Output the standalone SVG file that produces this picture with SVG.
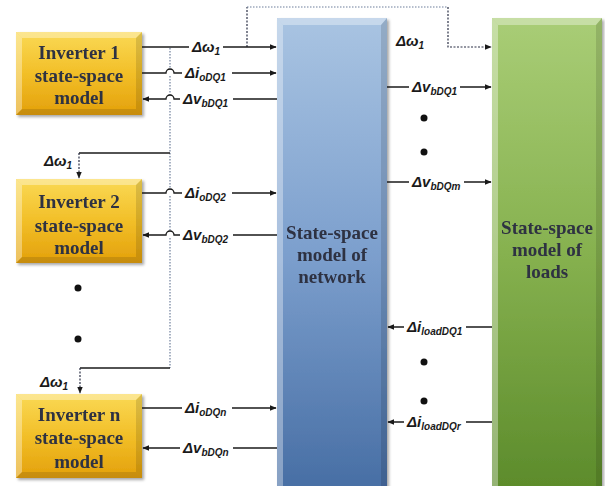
<svg xmlns="http://www.w3.org/2000/svg" width="605" height="486" viewBox="0 0 605 486">
  <defs>
    <linearGradient id="gold" x1="0" y1="0" x2="0" y2="1">
      <stop offset="0" stop-color="#fad955"/>
      <stop offset="0.5" stop-color="#f2bf28"/>
      <stop offset="1" stop-color="#e3a00b"/>
    </linearGradient>
    <linearGradient id="blue" x1="0" y1="0" x2="0" y2="1">
      <stop offset="0" stop-color="#a9c4e2"/>
      <stop offset="0.5" stop-color="#7c9fcd"/>
      <stop offset="1" stop-color="#476ea4"/>
    </linearGradient>
    <linearGradient id="green" x1="0" y1="0" x2="0" y2="1">
      <stop offset="0" stop-color="#a9cd76"/>
      <stop offset="0.5" stop-color="#86b14f"/>
      <stop offset="1" stop-color="#5c8b2b"/>
    </linearGradient>
    <marker id="arr" viewBox="0 0 10 10" refX="9" refY="5" markerWidth="7" markerHeight="7" markerUnits="userSpaceOnUse" orient="auto">
      <path d="M0,1 L10,5 L0,9 Z" fill="#1a1a1a"/>
    </marker>
    <filter id="shadow" x="-10%" y="-10%" width="125%" height="125%">
      <feGaussianBlur in="SourceAlpha" stdDeviation="1.5"/>
      <feOffset dx="1.5" dy="2" result="b"/>
      <feComponentTransfer><feFuncA type="linear" slope="0.35"/></feComponentTransfer>
      <feMerge><feMergeNode/><feMergeNode in="SourceGraphic"/></feMerge>
    </filter>
  </defs>
  <style>
    .box-text { font-family: "Liberation Serif", "Times New Roman", serif; font-weight: bold; font-size: 19px; fill: #2e3142; text-anchor: middle; }
    .lbl { font-family: "Liberation Sans", Arial, sans-serif; font-weight: bold; font-style: italic; font-size: 15px; fill: #1a1a1a; }
    .sub { font-size: 10px; }
    .gap { fill: #ffffff; }
    .wire { fill: none; stroke: #1a1a1a; stroke-width: 1.3; }
    .dash { fill: none; stroke: #2a2f45; stroke-width: 1.2; stroke-dasharray: 2 1.5; }
    .dotline { fill: none; stroke: #6e7f9c; stroke-width: 1.2; stroke-dasharray: 1.5 1.5; }
    .bevel-hi { fill: #ffffff; opacity: 0.35; }
    .bevel-lo { fill: #000000; opacity: 0.12; }
    .dot { fill: #111111; }
  </style>

  <rect width="605" height="486" fill="#ffffff"/>

  <!-- inverter blocks -->
  <g id="inverter1" filter="url(#shadow)">
    <rect x="16" y="32" width="126" height="83" fill="url(#gold)"/>
    <polygon class="bevel-hi" points="16,32 142,32 136,38 22,38"/>
    <polygon class="bevel-hi" points="16,32 22,38 22,109 16,115"/>
    <polygon class="bevel-lo" points="142,32 142,115 136,109 136,38"/>
    <polygon class="bevel-lo" points="16,115 142,115 136,109 22,109"/>
    <text class="box-text" x="79" y="59">Inverter 1</text>
    <text class="box-text" x="79" y="82">state-space</text>
    <text class="box-text" x="79" y="104">model</text>
  </g>
  <g id="inverter2" filter="url(#shadow)">
    <rect x="16" y="179" width="126" height="84" fill="url(#gold)"/>
    <polygon class="bevel-hi" points="16,179 142,179 136,185 22,185"/>
    <polygon class="bevel-hi" points="16,179 22,185 22,257 16,263"/>
    <polygon class="bevel-lo" points="142,179 142,263 136,257 136,185"/>
    <polygon class="bevel-lo" points="16,263 142,263 136,257 22,257"/>
    <text class="box-text" x="79" y="208">Inverter 2</text>
    <text class="box-text" x="79" y="232">state-space</text>
    <text class="box-text" x="79" y="254">model</text>
  </g>
  <g id="inverterN" filter="url(#shadow)">
    <rect x="16" y="394" width="126" height="84" fill="url(#gold)"/>
    <polygon class="bevel-hi" points="16,394 142,394 136,400 22,400"/>
    <polygon class="bevel-hi" points="16,394 22,400 22,472 16,478"/>
    <polygon class="bevel-lo" points="142,394 142,478 136,472 136,400"/>
    <polygon class="bevel-lo" points="16,478 142,478 136,472 22,472"/>
    <text class="box-text" x="79" y="421">Inverter n</text>
    <text class="box-text" x="79" y="444">state-space</text>
    <text class="box-text" x="79" y="468">model</text>
  </g>

  <!-- network and load blocks -->
  <g id="network" filter="url(#shadow)">
    <rect x="277" y="18" width="110" height="472" fill="url(#blue)"/>
    <polygon class="bevel-hi" points="277,18 387,18 381,25 283,25"/>
    <polygon class="bevel-hi" points="277,18 283,25 283,490 277,490"/>
    <polygon class="bevel-lo" points="387,18 387,490 381,490 381,25"/>
    <text class="box-text" x="332" y="239">State-space</text>
    <text class="box-text" x="332" y="261">model of</text>
    <text class="box-text" x="332" y="283">network</text>
  </g>
  <g id="loads" filter="url(#shadow)">
    <rect x="492" y="18" width="110" height="472" fill="url(#green)"/>
    <polygon class="bevel-hi" points="492,18 602,18 596,25 498,25"/>
    <polygon class="bevel-hi" points="492,18 498,25 498,490 492,490"/>
    <polygon class="bevel-lo" points="602,18 602,490 596,490 596,25"/>
    <text class="box-text" x="547" y="234">State-space</text>
    <text class="box-text" x="547" y="256">model of</text>
    <text class="box-text" x="547" y="278">loads</text>
  </g>

  <!-- connectors -->
  <g id="connectors">
    <!-- shared frequency reference distribution -->
    <path class="dash" d="M247,47 V7"/>
    <path class="dotline" d="M247,7 H448"/>
    <path class="dash" d="M448,7 V47 H491" marker-end="url(#arr)"/>
    <path class="dotline" d="M170,48 V70 M170,76 V96 M170,102 V153"/>
    <path class="dotline" d="M170,153 V190 M170,196 V232 M170,238 V368"/>
    <path class="wire" d="M170,153 H79"/>
    <path class="dash" d="M79,153 V178" marker-end="url(#arr)"/>
    <path class="wire" d="M170,368 H80"/>
    <path class="dash" d="M80,368 V393" marker-end="url(#arr)"/>

    <!-- inverter 1 -->
    <path class="wire" d="M142,47 H276" marker-end="url(#arr)"/>
    <path class="wire" d="M142,73 H166 A4,4 0 0 1 174,73 H276" marker-end="url(#arr)"/>
    <path class="wire" d="M277,99 H174 A4,4 0 0 0 166,99 H143" marker-end="url(#arr)"/>
    <!-- inverter 2 -->
    <path class="wire" d="M142,193 H166 A4,4 0 0 1 174,193 H276" marker-end="url(#arr)"/>
    <path class="wire" d="M277,235 H174 A4,4 0 0 0 166,235 H143" marker-end="url(#arr)"/>
    <!-- inverter n -->
    <path class="wire" d="M142,408 H276" marker-end="url(#arr)"/>
    <path class="wire" d="M277,448 H143" marker-end="url(#arr)"/>
    <!-- network to loads -->
    <path class="wire" d="M387,87 H491" marker-end="url(#arr)"/>
    <path class="wire" d="M387,182 H491" marker-end="url(#arr)"/>
    <path class="wire" d="M492,327 H388" marker-end="url(#arr)"/>
    <path class="wire" d="M492,422 H388" marker-end="url(#arr)"/>

    <!-- label gaps in the wires -->
    <rect class="gap" x="189" y="40" width="34" height="16"/>
    <rect class="gap" x="182" y="66" width="50" height="16"/>
    <rect class="gap" x="180" y="92" width="53" height="16"/>
    <rect class="gap" x="182" y="186" width="50" height="16"/>
    <rect class="gap" x="180" y="228" width="53" height="16"/>
    <rect class="gap" x="182" y="401" width="50" height="16"/>
    <rect class="gap" x="180" y="441" width="53" height="16"/>
    <rect class="gap" x="409" y="80" width="51" height="16"/>
    <rect class="gap" x="409" y="175" width="55" height="16"/>
    <rect class="gap" x="404" y="320" width="62" height="16"/>
    <rect class="gap" x="404" y="415" width="62" height="16"/>

    <!-- labels -->
    <text class="lbl" x="192" y="52">Δω<tspan class="sub" dy="3">1</tspan></text>
    <text class="lbl" x="185" y="78">Δi<tspan class="sub" dy="3">oDQ1</tspan></text>
    <text class="lbl" x="183" y="104">Δv<tspan class="sub" dy="3">bDQ1</tspan></text>
    <text class="lbl" x="185" y="198">Δi<tspan class="sub" dy="3">oDQ2</tspan></text>
    <text class="lbl" x="183" y="240">Δv<tspan class="sub" dy="3">bDQ2</tspan></text>
    <text class="lbl" x="185" y="413">Δi<tspan class="sub" dy="3">oDQn</tspan></text>
    <text class="lbl" x="183" y="453">Δv<tspan class="sub" dy="3">bDQn</tspan></text>
    <text class="lbl" x="44" y="166">Δω<tspan class="sub" dy="3">1</tspan></text>
    <text class="lbl" x="40" y="387">Δω<tspan class="sub" dy="3">1</tspan></text>
    <text class="lbl" x="396" y="46">Δω<tspan class="sub" dy="3">1</tspan></text>
    <text class="lbl" x="412" y="92">Δv<tspan class="sub" dy="3">bDQ1</tspan></text>
    <text class="lbl" x="412" y="187">Δv<tspan class="sub" dy="3">bDQm</tspan></text>
    <text class="lbl" x="407" y="332">Δi<tspan class="sub" dy="3">loadDQ1</tspan></text>
    <text class="lbl" x="407" y="427">Δi<tspan class="sub" dy="3">loadDQr</tspan></text>
  </g>

  <!-- ellipsis dots -->
  <circle class="dot" cx="78" cy="288" r="3.5"/>
  <circle class="dot" cx="78" cy="339" r="3.5"/>
  <circle class="dot" cx="424" cy="118" r="3.5"/>
  <circle class="dot" cx="424" cy="152" r="3.5"/>
  <circle class="dot" cx="424" cy="362" r="3.5"/>
  <circle class="dot" cx="424" cy="401" r="3.5"/>
</svg>
